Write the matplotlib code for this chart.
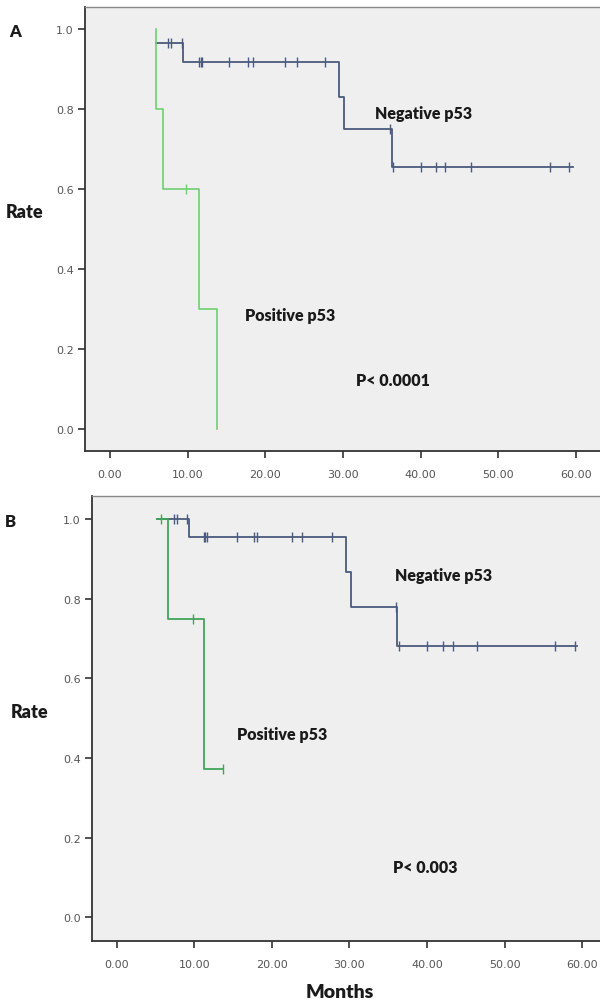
import matplotlib
matplotlib.use("Agg")
import matplotlib.pyplot as plt

# Panel A: step curves (time, rate after step) and censor marks
neg_a_t = [5.9, 9.4, 29.5, 30.1, 36.3, 59.6]
neg_a_s = [0.965, 0.917, 0.83, 0.75, 0.655, 0.655]
neg_a_cens_t = [7.5, 7.9, 9.3, 11.5, 11.7, 11.8, 15.4, 17.8, 18.4, 22.5, 24.1, 27.7,
                36.0, 36.4, 40.0, 42.0, 43.2, 46.5, 56.6, 59.1]
neg_a_cens_s = [0.965, 0.965, 0.965] + [0.917] * 9 + [0.75] + [0.655] * 7

pos_a_t = [5.9, 5.9, 6.8, 11.5, 13.8]
pos_a_s = [1.0, 0.80, 0.60, 0.30, 0.0]
pos_a_cens_t = [9.8]
pos_a_cens_s = [0.60]

# Panel B
neg_b_t = [5.2, 9.3, 29.5, 30.2, 36.1, 59.3]
neg_b_s = [1.0, 0.955, 0.867, 0.78, 0.68, 0.68]
neg_b_cens_t = [7.4, 7.7, 9.0, 11.2, 11.4, 11.6, 15.5, 17.7, 18.1, 22.6, 23.9, 27.7,
                36.0, 36.4, 40.0, 42.1, 43.3, 46.5, 56.5, 59.1]
neg_b_cens_s = [1.0, 1.0, 1.0] + [0.955] * 9 + [0.78] + [0.68] * 7

pos_b_t = [5.2, 6.6, 11.2, 13.7]
pos_b_s = [1.0, 0.75, 0.372, 0.372]
pos_b_cens_t = [5.7, 9.8, 13.7]
pos_b_cens_s = [1.0, 0.75, 0.372]

x_ticks = [0, 10, 20, 30, 40, 50, 60]
y_ticks = [0.0, 0.2, 0.4, 0.6, 0.8, 1.0]

NEG = "#4b5a7e"
POS_A = "#6fcf74"
POS_B = "#3fa55a"
BG = "#efefef"
TXT = {"family": "Lato", "weight": "heavy", "size": 11.5, "color": "#1a1a1a"}


def step_xy(t, s):
    xs, ys = [t[0]], [s[0]]
    for i in range(1, len(t)):
        xs += [t[i], t[i]]
        ys += [s[i - 1], s[i]]
    return xs, ys


def setup(ax, xlim, ylim):
    ax.set_facecolor(BG)
    ax.set_xlim(*xlim)
    ax.set_ylim(*ylim)
    ax.set_xticks(x_ticks)
    ax.set_xticklabels([f"{v:.2f}" for v in x_ticks])
    ax.set_yticks(y_ticks)
    ax.set_yticklabels([f"{v:.1f}" for v in y_ticks])
    ax.tick_params(direction="out", length=5, width=1.2, color="#333333",
                   labelsize=8, labelcolor="#555555", pad=3)
    ax.tick_params(axis="x", pad=8)
    for sp in ["left", "bottom"]:
        ax.spines[sp].set_color("#333333")
        ax.spines[sp].set_linewidth(1.3)
    ax.spines["top"].set_color("#888888")
    ax.spines["top"].set_linewidth(1.0)
    ax.spines["right"].set_visible(False)


fig = plt.figure(figsize=(6.0, 10.03), dpi=100)

# Panel A
ax = fig.add_axes([0.1417, 0.5494, 0.8583, 0.4426])
setup(ax, (-3.2, 63.1), (-0.055, 1.055))
x, y = step_xy(neg_a_t, neg_a_s)
ax.plot(x, y, color=NEG, lw=1.3)
ax.plot(neg_a_cens_t, neg_a_cens_s, ls="none", marker="|", ms=7, mew=1.0, color=NEG)
x, y = step_xy(pos_a_t, pos_a_s)
ax.plot(x, y, color=POS_A, lw=1.2)
ax.plot(pos_a_cens_t, pos_a_cens_s, ls="none", marker="|", ms=7, mew=1.0, color=POS_A)
ax.text(34.1, 0.79, "Negative p53", va="center", ha="left", **TXT)
ax.text(17.4, 0.285, "Positive p53", va="center", ha="left", **TXT)
ax.text(31.7, 0.122, "P< 0.0001", va="center", ha="left", **TXT)

# Panel B
ax = fig.add_axes([0.1533, 0.0608, 0.8467, 0.4437])
setup(ax, (-3.2, 62.3), (-0.06, 1.058))
x, y = step_xy(neg_b_t, neg_b_s)
ax.plot(x, y, color=NEG, lw=1.3)
ax.plot(neg_b_cens_t, neg_b_cens_s, ls="none", marker="|", ms=7, mew=1.0, color=NEG)
x, y = step_xy(pos_b_t, pos_b_s)
ax.plot(x, y, color=POS_B, lw=1.3)
ax.plot(pos_b_cens_t, pos_b_cens_s, ls="none", marker="|", ms=7, mew=1.0, color=POS_B)
ax.text(35.9, 0.86, "Negative p53", va="center", ha="left", **TXT)
ax.text(15.5, 0.46, "Positive p53", va="center", ha="left", **TXT)
ax.text(35.6, 0.126, "P< 0.003", va="center", ha="left", **TXT)

# Outer labels
lab = {"family": "Lato", "weight": "heavy", "color": "#1a1a1a"}
fig.text(15 / 600, 1 - 32 / 1003, "A", ha="center", va="center", size=12, **lab)
fig.text(25 / 600, 1 - 213 / 1003, "Rate", ha="center", va="center", size=13, **lab)
fig.text(10 / 600, 1 - 522 / 1003, "B", ha="center", va="center", size=12, **lab)
fig.text(30 / 600, 1 - 713 / 1003, "Rate", ha="center", va="center", size=13, **lab)
fig.text(340 / 600, 1 - 993 / 1003, "Months", ha="center", va="center", size=14, **lab)

fig.savefig("out.png", dpi=100)
